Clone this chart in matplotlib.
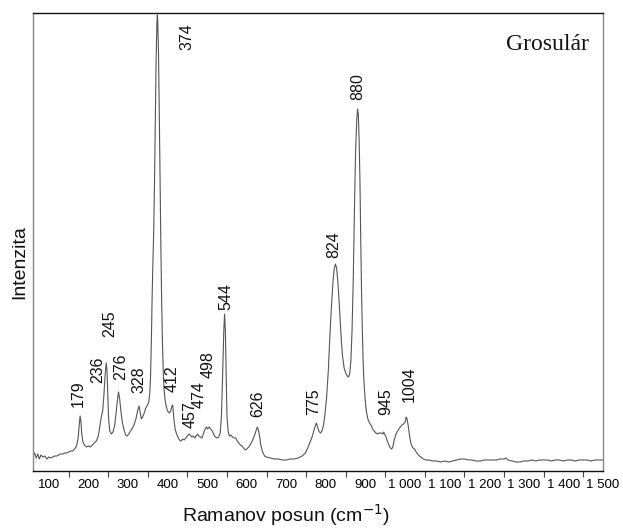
import matplotlib
matplotlib.use("Agg")
import matplotlib.pyplot as plt
from matplotlib import font_manager
from matplotlib.ticker import FixedLocator, FixedFormatter

# Raman shift (cm-1) and intensity (arbitrary units)
shift = [60, 64, 68, 72, 76, 80, 85, 90, 95, 100, 105, 110, 115, 120, 125, 130, 135, 140, 145, 150,
         155, 160, 165, 170, 174, 177, 179, 181, 183, 186, 190, 195, 200, 205, 210, 215, 220, 225, 229, 233,
         236, 239, 242, 245, 247, 249, 251, 254, 258, 262, 266, 270, 273, 276, 279, 282, 286, 290, 294, 298,
         302, 306, 310, 315, 320, 324, 328, 331, 334, 337, 341, 345, 349, 352, 355, 357, 359, 361, 363, 365,
         367, 369, 371, 373, 374, 375, 377, 379, 381, 383, 385, 387, 389, 391, 394, 397, 400, 404, 408, 411,
         413, 416, 419, 422, 426, 430, 434, 438, 442, 446, 450, 454, 457, 461, 465, 469, 472, 476, 479, 483,
         487, 491, 495, 498, 501, 505, 509, 513, 517, 521, 525, 529, 533, 536, 539, 542, 544, 546, 548, 550,
         553, 556, 560, 564, 568, 572, 576, 580, 584, 588, 592, 596, 600, 605, 610, 615, 620, 624, 627, 630,
         633, 636, 640, 645, 650, 660, 670, 680, 690, 700, 710, 720, 730, 740, 748, 754, 760, 765, 770, 773,
         776, 779, 782, 786, 790, 794, 798, 802, 806, 810, 814, 818, 821, 824, 827, 830, 833, 836, 839, 842,
         846, 850, 854, 857, 860, 863, 866, 869, 872, 875, 878, 880, 882, 884, 886, 888, 890, 892, 894, 896,
         899, 902, 906, 910, 914, 918, 922, 926, 930, 935, 940, 944, 946, 948, 951, 955, 959, 963, 966, 969,
         972, 976, 980, 984, 988, 992, 996, 1000, 1003, 1005, 1008, 1011, 1014, 1017, 1020, 1024, 1028, 1032, 1036, 1040,
         1046, 1052, 1060, 1070, 1080, 1090, 1100, 1110, 1120, 1130, 1140, 1150, 1160, 1170, 1180, 1190, 1200, 1210, 1220, 1230,
         1240, 1250, 1255, 1260, 1270, 1280, 1290, 1300, 1310, 1320, 1330, 1340, 1350, 1360, 1370, 1380, 1390, 1400, 1410, 1420,
         1430, 1440, 1450, 1460, 1470, 1480, 1490, 1500]
intensity = [15, 18, 13, 17, 12, 16, 14, 15, 12, 14, 13, 14, 15, 15, 16, 17, 17, 18, 18, 19,
             20, 20, 22, 25, 33, 47, 55, 50, 38, 29, 26, 24, 25, 24, 26, 28, 30, 35, 45, 55,
             60, 75, 95, 108, 100, 75, 52, 40, 37, 39, 45, 58, 70, 79, 72, 60, 48, 41, 36, 35,
             37, 40, 42, 46, 52, 60, 65, 58, 52, 54, 58, 63, 66, 68, 78, 95, 130, 175, 210, 240,
             290, 350, 410, 448, 456, 452, 420, 360, 290, 225, 170, 130, 100, 82, 70, 64, 60, 58, 60, 65,
             66, 52, 42, 38, 34, 31, 30, 32, 31, 33, 35, 37, 36, 34, 35, 33, 35, 37, 35, 34,
             33, 38, 42, 44, 42, 44, 42, 40, 36, 34, 33, 34, 38, 55, 95, 140, 157, 140, 95, 55,
             40, 35, 36, 34, 33, 33, 30, 28, 26, 25, 23, 21, 22, 24, 27, 31, 36, 41, 44, 40,
             33, 25, 19, 15, 14, 13, 12, 12, 11, 11, 12, 12, 13, 15, 18, 23, 29, 34, 41, 45,
             48, 44, 40, 38, 40, 46, 58, 75, 100, 135, 165, 190, 202, 207, 203, 190, 172, 150, 130, 115,
             103, 98, 95, 94, 97, 110, 140, 190, 260, 320, 352, 362, 356, 330, 290, 230, 180, 140, 110, 90,
             72, 60, 52, 48, 46, 42, 40, 38, 37, 38, 38, 37, 39, 37, 35, 30, 26, 23, 22, 24,
             30, 36, 39, 42, 44, 46, 47, 49, 54, 52, 45, 36, 29, 25, 23, 22, 19, 17, 15, 14,
             12, 11, 11, 10, 10, 9, 10, 9, 10, 11, 12, 12, 11, 11, 10, 10, 11, 11, 11, 11,
             12, 12, 13, 11, 10, 9, 9, 10, 10, 11, 10, 11, 11, 11, 10, 11, 11, 10, 11, 11,
             10, 11, 11, 11, 10, 11, 11, 11]

# Peak annotations
peak_labels = ['179', '236', '245', '276', '328', '374', '412', '457', '474', '498',
               '544', '626', '775', '824', '880', '945', '1004']
label_x = [174, 224, 254, 281, 328, 448, 412, 457, 480, 502, 546, 627, 769, 819, 880, 951, 1011]
label_y = [64, 88, 134, 91, 78, 421, 79, 43, 63, 93, 161, 54, 56, 213, 371, 56, 69]

tick_values = [100, 200, 300, 400, 500, 600, 700, 800, 900, 1000, 1100, 1200, 1300, 1400, 1500]
tick_labels = ['100', '200', '300', '400', '500', '600', '700', '800', '900',
               '1 000', '1 100', '1 200', '1 300', '1 400', '1 500']
minor_ticks = [150, 250, 350, 450, 550, 650, 750, 850, 950, 1050, 1150, 1250, 1350, 1450]


def has_font(name):
    try:
        font_manager.findfont(font_manager.FontProperties(family=name), fallback_to_default=False)
        return True
    except Exception:
        return False


narrow_ok = has_font('Liberation Sans Narrow')
sans = ['Liberation Sans', 'DejaVu Sans']
if narrow_ok:
    label_family = ['Liberation Sans Narrow'] + sans
    label_size = 12.5
    tick_family = ['Liberation Sans Narrow'] + sans
    tick_size = 10.5
else:
    label_family = sans
    label_size = 11.5
    tick_family = sans
    tick_size = 9.5

fig = plt.figure(figsize=(6.23, 5.28), dpi=100)
ax = fig.add_axes([33 / 623, 1 - 471 / 528, 570 / 623, 458 / 528])

ax.plot(shift, intensity, color='#555555', lw=0.8)
ax.set_xlim(60, 1500)
ax.set_ylim(0, 458)

for lab, lx, ly in zip(peak_labels, label_x, label_y):
    ax.text(lx, ly, lab, rotation=90, ha='center', va='bottom', fontsize=label_size,
            family=label_family, color='#111111')

ax.text(0.975, 0.955, 'Grosulár', transform=ax.transAxes, ha='right', va='top',
        fontsize=17, family=['Liberation Serif', 'DejaVu Serif'], color='#111111')

ax.xaxis.set_major_locator(FixedLocator(tick_values))
ax.xaxis.set_major_formatter(FixedFormatter(tick_labels))
ax.xaxis.set_minor_locator(FixedLocator(minor_ticks))
ax.tick_params(axis='x', which='major', length=0, pad=6, labelsize=tick_size)
ax.tick_params(axis='x', which='minor', length=4, width=0.8, direction='out', color='#444444')
for t in ax.get_xticklabels():
    t.set_family(tick_family)
ax.set_yticks([])

for side in ['left', 'right']:
    ax.spines[side].set_color('#888888')
    ax.spines[side].set_linewidth(1.0)
for side in ['top', 'bottom']:
    ax.spines[side].set_color('#111111')
    ax.spines[side].set_linewidth(1.0)

fig.text(286 / 623, 1 - 515 / 528, 'Ramanov posun (cm$^{-1}$)', ha='center', va='center',
         fontsize=14, family=sans, color='#111111')
fig.text(20 / 623, 1 - 262 / 528, 'Intenzita', ha='center', va='center', rotation=90,
         fontsize=14, family=sans, color='#111111')

fig.savefig('out.png', dpi=100)
